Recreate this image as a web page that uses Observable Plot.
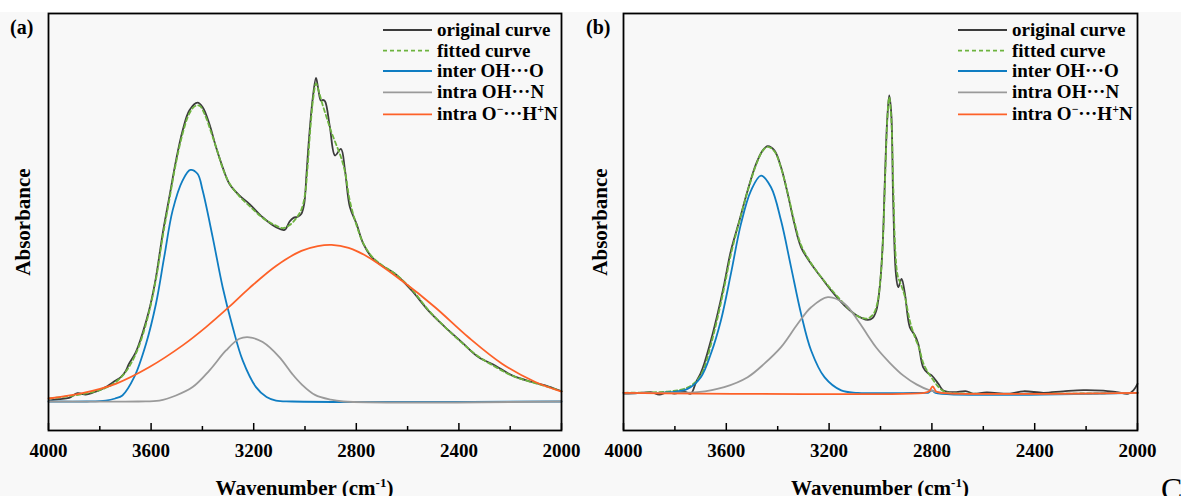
<!DOCTYPE html>
<html><head><meta charset="utf-8">
<script src="https://cdn.jsdelivr.net/npm/d3@7"></script>
<script src="https://cdn.jsdelivr.net/npm/@observablehq/plot@0.6"></script>
<style>
html,body{margin:0;padding:0;background:#f8f8f8;}
#wrap{position:relative;width:1181px;height:496px;overflow:hidden;}
#topband{position:absolute;left:0;top:0;width:1181px;height:12px;background:#fff;}
</style></head>
<body><div id="wrap"><div id="topband"></div></div>
<script>
// ---------- data (wavenumber cm^-1, absorbance a.u.) ----------
const majorTicks = [4000, 3600, 3200, 2800, 2400, 2000];
const minorTicks = [3800, 3400, 3000, 2600, 2200];
const legendLabels = ["original curve", "fitted curve", "inter OH\u00B7\u00B7\u00B7O", "intra OH\u00B7\u00B7\u00B7N", "intra O^{\u2212}\u00B7\u00B7\u00B7H^{+}N"];
const panelLabels = ["(a)", "(b)"];
const xTitle = "Wavenumber (cm^{-1})";
const yTitle = "Absorbance";

const aOriginal = [[3998,0.003],[3960,0.008],[3920,0.012],[3887,0.028],[3855,0.023],[3825,0.030],[3803,0.037],[3777,0.048],[3738,0.070],[3718,0.081],[3700,0.100],[3686,0.126],[3660,0.164],[3634,0.226],[3608,0.303],[3581,0.414],[3555,0.559],[3529,0.681],[3503,0.803],[3477,0.903],[3451,0.970],[3419,0.996],[3399,0.981],[3373,0.926],[3347,0.848],[3321,0.781],[3295,0.726],[3256,0.687],[3217,0.659],[3165,0.614],[3113,0.581],[3080,0.572],[3060,0.600],[3045,0.612],[3028,0.616],[3014,0.626],[3003,0.660],[2994,0.760],[2984,0.880],[2970,1.010],[2957,1.079],[2948,1.040],[2938,1.003],[2930,1.005],[2922,1.001],[2903,0.915],[2883,0.820],[2860,0.842],[2844,0.770],[2825,0.648],[2799,0.592],[2773,0.526],[2740,0.481],[2701,0.453],[2649,0.426],[2584,0.370],[2519,0.303],[2454,0.248],[2389,0.198],[2324,0.148],[2259,0.120],[2193,0.087],[2115,0.065],[2050,0.050],[2000,0.034]];
const aFitted = [[3998,0.010],[3900,0.020],[3820,0.033],[3760,0.052],[3720,0.078],[3690,0.110],[3660,0.158],[3634,0.218],[3608,0.298],[3581,0.408],[3555,0.548],[3529,0.672],[3503,0.795],[3477,0.893],[3451,0.960],[3428,0.985],[3410,0.985],[3390,0.955],[3365,0.895],[3340,0.830],[3321,0.778],[3295,0.728],[3256,0.684],[3217,0.652],[3165,0.612],[3113,0.586],[3085,0.578],[3060,0.588],[3035,0.610],[3014,0.640],[3000,0.690],[2990,0.780],[2980,0.900],[2968,1.010],[2957,1.060],[2945,1.030],[2930,0.985],[2915,0.945],[2900,0.905],[2880,0.860],[2860,0.815],[2844,0.765],[2825,0.668],[2800,0.590],[2773,0.528],[2740,0.484],[2701,0.455],[2649,0.426],[2584,0.374],[2519,0.305],[2454,0.248],[2389,0.196],[2324,0.150],[2259,0.116],[2193,0.086],[2115,0.064],[2050,0.048],[2000,0.034]];
const aInterOHO = [[4000,0],[3850,0],[3777,0.003],[3740,0.010],[3712,0.020],[3666,0.081],[3620,0.192],[3581,0.326],[3549,0.481],[3516,0.637],[3477,0.737],[3447,0.772],[3419,0.759],[3399,0.703],[3360,0.548],[3321,0.381],[3282,0.248],[3243,0.137],[3191,0.048],[3150,0.015],[3113,0.003],[3050,0],[2000,0]];
const aIntraOHN = [[4000,0],[3650,0],[3568,0.003],[3503,0.020],[3438,0.048],[3373,0.103],[3308,0.170],[3256,0.209],[3217,0.214],[3165,0.198],[3100,0.148],[3050,0.092],[3014,0.058],[2961,0.022],[2900,0.006],[2850,0],[2000,0]];
const aIntraOHN2 = [[4000,0.010],[3868,0.028],[3738,0.059],[3608,0.114],[3477,0.187],[3386,0.248],[3295,0.316],[3217,0.378],[3113,0.452],[3014,0.502],[2950,0.518],[2896,0.522],[2830,0.512],[2753,0.481],[2623,0.403],[2493,0.314],[2363,0.214],[2232,0.126],[2102,0.065],[2000,0.033]];

const bOriginal = [[3997,-0.003],[3945,-0.001],[3893,0.002],[3861,-0.006],[3828,0.002],[3802,-0.003],[3764,0.005],[3738,-0.003],[3718,0.035],[3700,0.065],[3686,0.097],[3660,0.174],[3634,0.263],[3608,0.363],[3582,0.474],[3549,0.574],[3517,0.674],[3484,0.763],[3458,0.808],[3439,0.822],[3413,0.808],[3387,0.752],[3361,0.663],[3335,0.563],[3309,0.485],[3270,0.430],[3231,0.385],[3192,0.341],[3140,0.291],[3101,0.263],[3075,0.250],[3049,0.243],[3030,0.250],[3016,0.275],[3003,0.352],[2992,0.485],[2983,0.708],[2974,0.908],[2966,0.991],[2958,0.930],[2951,0.652],[2940,0.397],[2931,0.352],[2918,0.380],[2905,0.330],[2886,0.219],[2866,0.191],[2853,0.163],[2834,0.085],[2815,0.065],[2801,0.058],[2775,0.030],[2756,0.008],[2717,0.002],[2665,0.005],[2639,-0.003],[2587,0.001],[2496,-0.003],[2444,0.005],[2366,0],[2289,0.005],[2210,0.009],[2133,0.007],[2081,0.002],[2035,-0.003],[2016,0.008],[2000,0.030]];
const bFitted = [[3997,0],[3900,0.001],[3830,0.004],[3780,0.010],[3745,0.020],[3715,0.040],[3690,0.075],[3660,0.160],[3634,0.250],[3608,0.352],[3582,0.462],[3549,0.572],[3517,0.672],[3484,0.760],[3460,0.805],[3440,0.820],[3413,0.805],[3387,0.750],[3361,0.665],[3335,0.570],[3309,0.492],[3270,0.432],[3231,0.386],[3192,0.345],[3140,0.295],[3101,0.262],[3075,0.250],[3049,0.248],[3028,0.262],[3012,0.300],[3000,0.380],[2990,0.520],[2981,0.740],[2973,0.920],[2966,0.985],[2958,0.910],[2950,0.680],[2942,0.470],[2933,0.390],[2920,0.360],[2905,0.320],[2886,0.240],[2866,0.185],[2850,0.150],[2834,0.100],[2815,0.068],[2797,0.045],[2775,0.020],[2756,0.006],[2730,0],[2000,0]];
const bInterOHO = [[4000,0],[3850,0],[3815,0.002],[3751,0.013],[3699,0.052],[3660,0.130],[3621,0.241],[3582,0.397],[3543,0.563],[3504,0.674],[3465,0.724],[3426,0.685],[3387,0.574],[3348,0.419],[3309,0.263],[3270,0.141],[3218,0.052],[3153,0.008],[3088,0],[2830,0],[2815,0],[2800,0.008],[2786,0],[2000,0]];
const bIntraOHN = [[4000,0],[3802,0],[3712,0.002],[3608,0.019],[3517,0.052],[3452,0.097],[3387,0.152],[3322,0.230],[3270,0.285],[3205,0.319],[3140,0.297],[3088,0.241],[3050,0.192],[3016,0.150],[2964,0.100],[2912,0.058],[2860,0.028],[2808,0.008],[2756,0],[2000,0]];
const bIntraOHN2 = [[4000,0],[2830,0],[2812,0.004],[2797,0.021],[2783,0.004],[2765,0],[2000,0]];

// ---------- styling ----------
const colors = ["#3c3c3c", "#6db33f", "#0f7dc2", "#9a9a9a", "#fd6128"];
const dashes = [null, "4,3", null, null, null];
const serif = "'Liberation Serif','Times New Roman',serif";

function makePanel(seriesList, yDomain, width, ml, mr) {
  const H = 496, mt = 13, mb = 66, ih = H - mt - mb;
  const lineMarks = seriesList.map((data, i) => Plot.line(data, {
    x: d => d[0], y: d => d[1], stroke: colors[i], strokeWidth: 1.8,
    strokeDasharray: dashes[i] || undefined, curve: "catmull-rom"
  }));
  return Plot.plot({
    width, height: H, marginTop: mt, marginBottom: mb, marginLeft: ml, marginRight: mr,
    x: {domain: [4000, 2000], axis: null},
    y: {domain: yDomain, axis: null},
    style: {background: "transparent", fontFamily: serif, overflow: "visible"},
    marks: [
      ...lineMarks,
      Plot.tickX(minorTicks, {x: d => d, insetTop: ih - 4, stroke: "#000", strokeWidth: 1.5}),
      Plot.tickX(majorTicks, {x: d => d, insetTop: ih - 7, stroke: "#000", strokeWidth: 1.5}),
      Plot.text(majorTicks, {x: d => d, text: d => String(d), frameAnchor: "bottom", lineAnchor: "bottom", dy: 26, fontSize: 19, fontWeight: "bold", fill: "#000"}),
      Plot.frame({stroke: "#000", strokeWidth: 1.8})
    ]
  });
}

const wrap = document.getElementById("wrap");
const pa = makePanel([aOriginal, aFitted, aInterOHO, aIntraOHN, aIntraOHN2], [-0.0967, 1.2933], 570, 48, 9);
pa.style.position = "absolute"; pa.style.left = "0px"; pa.style.top = "0px";
wrap.appendChild(pa);
const pb = makePanel([bOriginal, bFitted, bInterOHO, bIntraOHN, bIntraOHN2], [-0.1257, 1.2643], 611, 53, 44);
pb.style.position = "absolute"; pb.style.left = "570px"; pb.style.top = "0px";
wrap.appendChild(pb);

// ---------- overlay text ----------
const ov = d3.select("#wrap").append("svg")
  .attr("width", 1181).attr("height", 496)
  .style("position", "absolute").style("left", "0px").style("top", "0px")
  .style("overflow", "visible")
  .attr("font-family", serif).attr("font-weight", "bold").attr("fill", "#000");

function richText(sel, str, fs) {
  const parts = str.split(/\^\{([^}]*)\}/);
  let pending = 0;
  parts.forEach((p, i) => {
    if (!p) return;
    if (i % 2 === 1) {
      const shift = -fs * 0.36 - pending;
      sel.append("tspan").attr("font-size", fs * 0.62).attr("dy", shift).text(p);
      pending = -fs * 0.36;
    } else {
      const ts = sel.append("tspan").text(p);
      if (pending) ts.attr("dy", -pending);
      pending = 0;
    }
  });
}

const panels = [
  {labelX: 10, yTitleX: 30, frameL: 48, frameR: 561, legendX: 383},
  {labelX: 586, yTitleX: 607, frameL: 623, frameR: 1137, legendX: 958}
];
const rowY = [30, 50.7, 71, 92.3, 114.3];
panels.forEach((p, k) => {
  ov.append("text").attr("x", p.labelX).attr("y", 34).attr("font-size", 20).text(panelLabels[k]);
  ov.append("text").attr("transform", `translate(${p.yTitleX},222) rotate(-90)`)
    .attr("text-anchor", "middle").attr("font-size", 21).text(yTitle);
  const xt = ov.append("text").attr("x", (p.frameL + p.frameR) / 2).attr("y", 495)
    .attr("text-anchor", "middle").attr("font-size", 21);
  richText(xt, xTitle, 21);
  legendLabels.forEach((lab, i) => {
    ov.append("line").attr("x1", p.legendX).attr("x2", p.legendX + 49)
      .attr("y1", rowY[i]).attr("y2", rowY[i])
      .attr("stroke", colors[i]).attr("stroke-width", 1.8)
      .attr("stroke-dasharray", dashes[i]);
    const t = ov.append("text").attr("x", p.legendX + 54).attr("y", rowY[i] + 6).attr("font-size", 19);
    richText(t, lab, 19);
  });
});
ov.append("text").attr("x", 1161).attr("y", 500).attr("font-size", 32).attr("font-weight", "normal").text("C");
</script>
</body></html>
